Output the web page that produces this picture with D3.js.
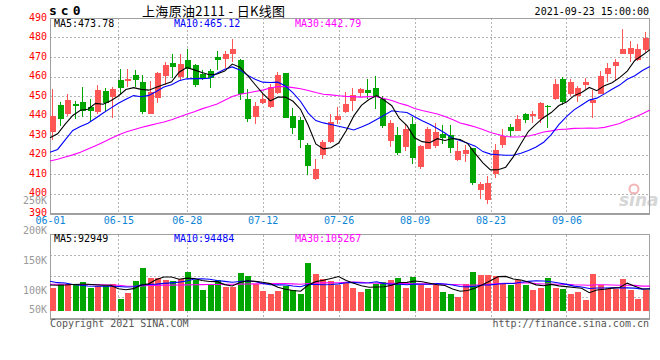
<!DOCTYPE html>
<html><head><meta charset="utf-8">
<script src="https://cdn.jsdelivr.net/npm/d3@7"></script>
<style>body{margin:0;background:#fff}svg{display:block}</style>
</head><body><svg id="c" width="660" height="360"></svg>
<script>
const dates = ["06-01","06-02","06-03","06-04","06-07","06-08","06-09","06-10","06-11","06-15","06-16","06-17","06-18","06-21","06-22","06-23","06-24","06-25","06-28","06-29","06-30",
"07-01","07-02","07-05","07-06","07-07","07-08","07-09","07-12","07-13","07-14","07-15","07-16","07-19","07-20","07-21","07-22","07-23","07-26","07-27","07-28","07-29","07-30",
"08-02","08-03","08-04","08-05","08-06","08-09","08-10","08-11","08-12","08-13","08-16","08-17","08-18","08-19","08-20","08-23","08-24","08-25","08-26","08-27","08-30","08-31",
"09-01","09-02","09-03","09-06","09-07","09-08","09-09","09-10","09-13","09-14","09-15","09-16","09-17","09-22","09-23"];
const tickDates = ["06-01","06-15","06-28","07-12","07-26","08-09","08-23","09-06"];

const openP = [431.5,445.2,440.6,446.1,446.9,444.4,441.8,452.6,449.5,458.4,457.9,460.8,457.2,440.6,449.1,460.1,466.9,459.9,468.3,465.7,
461.5,462.8,470.0,469.1,471.7,468.3,448.6,439.2,446.4,444.4,451.5,461.8,439.6,437.9,424.7,407.6,419.6,426.4,437.5,441.8,
447.4,451.7,453.2,454.3,448.6,426.9,429.8,423.8,435.8,413.6,423.0,424.2,430.7,429.8,417.4,420.4,423.3,402.0,396.8,409.8,
425.0,434.1,432.1,440.6,439.9,438.4,445.0,448.6,458.9,451.2,449.8,455.8,446.4,451.2,461.5,465.4,471.7,471.7,468.6,473.4];
const highP = [453.8,446.9,451.2,447.3,454.6,448.6,455.5,454.3,454.6,464.0,464.0,463.5,460.6,457.7,462.3,467.4,471.7,471.7,474.3,466.6,
463.2,464.0,473.1,472.9,479.4,469.1,453.8,446.9,451.2,456.3,462.3,461.8,444.0,439.2,425.9,417.9,427.6,440.9,444.4,452.1,
454.3,454.3,458.9,460.1,449.8,437.5,434.1,435.5,439.2,425.0,434.1,436.2,435.0,435.0,426.9,424.7,423.5,405.9,408.8,425.2,
433.2,435.5,440.1,441.5,442.3,446.9,445.2,458.9,459.7,458.9,455.1,459.2,453.2,462.8,466.9,469.1,484.2,478.2,476.5,482.8];
const lowP = [427.3,434.6,439.6,438.4,439.2,436.7,440.9,441.8,438.9,451.2,454.6,454.6,440.9,440.6,446.4,455.5,459.4,458.0,459.2,454.6,
458.0,454.3,463.2,464.5,467.4,448.1,436.7,435.8,446.0,444.0,450.9,438.9,430.7,423.5,409.3,406.8,417.9,425.9,435.8,441.5,
442.3,449.5,448.6,443.5,433.8,423.8,419.6,421.8,415.3,412.7,422.7,423.3,425.6,420.8,416.7,416.2,404.5,397.4,394.8,408.1,
423.5,429.0,431.8,436.2,436.2,436.2,433.8,448.1,445.2,449.8,446.9,453.8,438.9,450.9,457.2,457.7,471.4,467.4,467.9,472.6];
const closeP = [439.7,438.4,448.0,445.0,442.3,442.3,453.2,446.4,453.8,454.3,458.9,458.0,441.8,452.1,461.8,465.7,464.9,466.4,464.0,455.8,
458.9,459.4,468.3,471.4,473.9,450.9,438.4,445.0,448.5,454.6,460.6,438.9,433.8,427.6,413.9,412.7,426.4,436.7,439.6,445.7,
450.7,453.4,451.5,449.5,434.4,436.2,420.8,433.2,418.4,424.4,433.2,431.5,428.6,423.5,421.8,422.5,405.6,405.0,405.6,422.1,
429.3,432.1,438.2,437.9,440.6,446.4,444.4,456.3,446.9,457.2,454.3,457.2,447.8,460.1,464.4,467.4,474.3,474.6,473.9,479.9];

const ma5 = [428.6,430.6,435.6,440.0,442.7,443.2,446.2,445.8,447.6,450.0,453.3,454.3,453.4,453.0,454.5,455.9,457.3,462.2,464.6,463.4,
462.0,460.9,461.3,462.8,466.4,464.8,460.6,455.9,451.3,447.5,449.4,449.5,447.3,443.1,435.0,425.4,422.9,423.5,425.9,432.2,
439.8,445.2,448.2,450.2,447.9,445.0,438.5,434.8,428.6,426.6,426.0,428.1,427.2,428.2,427.7,425.6,420.4,415.7,412.1,412.2,
413.5,418.8,425.5,431.9,435.6,439.0,441.5,445.1,446.9,450.2,451.8,454.4,452.7,455.3,456.8,459.4,462.8,468.2,470.9,473.8];
const ma10 = [421.1,422.6,427.5,432.3,434.4,436.0,438.6,441.3,443.8,446.3,448.3,450.2,449.6,450.3,452.3,454.6,455.8,457.8,458.8,458.9,
458.9,459.1,461.7,463.7,464.9,463.4,460.7,458.6,457.1,456.9,457.1,455.1,451.6,447.2,441.2,437.4,436.2,435.4,434.5,433.6,
432.6,434.1,435.8,438.0,440.1,442.4,441.9,441.5,439.4,437.3,435.5,433.3,431.0,428.4,427.2,425.8,424.3,421.5,420.2,419.9,
419.6,419.6,420.6,422.0,423.9,426.3,430.2,435.3,439.4,442.9,445.4,447.9,448.9,451.1,453.5,455.6,458.6,460.4,463.1,465.1];
const ma30 = [416.7,417.6,418.7,419.8,421.2,422.8,424.5,426.3,428.2,430.0,431.5,432.7,433.8,434.8,435.8,436.7,437.8,439.2,440.6,441.9,
443.4,444.6,445.9,447.8,449.8,450.9,451.5,452.3,453.0,454.1,454.8,454.8,454.3,453.7,452.8,451.8,450.9,450.6,450.1,449.8,
449.6,449.4,449.7,449.6,448.7,447.7,446.3,445.2,443.6,442.6,441.7,440.8,439.5,437.9,436.2,435.2,434.1,432.8,431.3,430.3,
429.2,429.0,429.1,429.5,430.4,431.5,432.1,432.8,433.0,433.4,433.5,433.6,433.5,433.9,434.9,435.9,437.7,439.1,440.9,442.8];

const volume = [97600,115900,115900,115900,122900,97600,104600,104600,115900,49500,
76300,127200,182300,139900,139900,130000,127200,134300,165300,130000,
87700,108800,130000,101800,101800,161100,147000,115900,84800,70700,
84800,104600,87700,70700,203500,155400,134300,125800,111700,118700,
99000,80600,94700,115900,122900,130000,139900,97600,144200,108800,
97600,108800,80600,70700,59500,113100,165300,151200,151200,147000,
118700,108800,130000,108800,87700,99000,138500,99000,91900,70700,
80600,45400,155400,108800,94700,94700,137100,90500,49500,90500];
const volMa5 = [110000,109000,110000,112000,113600,113600,111400,109100,109100,94400,
90200,94700,110200,115000,133100,143900,143900,134300,139300,137400,
128900,125200,124400,111700,106000,120700,128300,125500,122100,115900,
100600,92200,86500,83700,110300,124400,130300,137900,146100,129200,
117900,107200,100900,101800,102600,108800,120700,121300,126900,124100,
117600,111400,108000,93300,83400,86500,97800,112000,128100,145600,
146700,135400,131100,122700,110800,106900,112800,106600,103200,99800,
96100,77500,88800,92200,97000,99800,118100,105200,93300,92949];
const volMa10 = [125700,120000,118800,112000,108900,106000,104700,104700,104700,104000,
101900,103000,109700,112100,113800,117000,119300,122300,127200,135200,
136400,134500,129300,125500,121700,124800,126800,124900,116900,111000,
110700,110300,106000,102900,113100,112500,111200,112200,114900,119700,
121100,118700,119400,124000,115900,113400,113900,111100,114400,113400,
113200,116000,114600,110100,103800,102100,104600,110000,110700,114500,
116600,116600,121600,125400,128200,126800,124100,118900,112900,105300,
101500,95200,97700,97700,98400,98000,97800,97000,92700,94484];
const volMa30 = [113000,113000,113000,112500,112000,112000,111500,111000,110000,109000,
106000,105000,106000,108000,108500,109000,109500,110000,110500,111000,
111500,112000,112500,113000,113500,114000,114500,115000,115500,116700,
116300,115900,115000,113500,116200,118100,119100,119800,119700,122000,
122700,121200,118300,117500,116900,116900,117300,116100,115400,114700,
115000,115000,113400,112300,110900,109300,109900,111100,113300,115900,
117000,117100,118500,119800,116000,114100,114200,113300,112700,111100,
110400,109300,111300,111100,110100,108900,108800,108600,105500,105267];

const priceTicks = [390,400,410,420,430,440,450,460,470,480,490];
const volLabelTicks = [250000,200000,150000,100000,50000];
const legendPrice = [{t:"MA5:473.78",c:"#000"},{t:"MA10:465.12",c:"#0000ff"},{t:"MA30:442.79",c:"#ff00ff"}];
const legendVol = [{t:"MA5:92949",c:"#000"},{t:"MA10:94484",c:"#0000ff"},{t:"MA30:105267",c:"#ff00ff"}];

const UP = "#ff5555", DOWN = "#00a600", GRID = "#b4b4b4", FRAME = "#a0a0a0";
const MONO = "'DejaVu Sans Mono', 'Liberation Mono', monospace";

const svg = d3.select("#c");
const L = 50, R = 650;
const pTop = 18, pBot = 213;
const vTop = 234.5, vBot = 318;

const xBand = d3.scaleBand().domain(dates).range([L, R]);
const xPt = d3.scalePoint().domain(dates).range([L, R]);
const yP = d3.scaleLinear().domain([390, 490]).range([pBot, pTop]);
const yV = d3.scaleLinear().domain([0, 324000]).range([311, 234.5]);
const yVLabel = d3.scaleLinear().domain([50000, 250000]).range([320.5, 200.5]);

svg.append("rect").attr("width", 660).attr("height", 360).attr("fill", "#fff");

// grids
const grid = svg.append("g").attr("stroke", GRID).attr("stroke-width", 1).attr("stroke-dasharray", "2,2").attr("shape-rendering", "crispEdges");
grid.selectAll(".hp").data(priceTicks.filter(v => v > 390 && v < 490)).join("line")
  .attr("x1", L).attr("x2", R).attr("y1", d => Math.round(yP(d)) + 0.5).attr("y2", d => Math.round(yP(d)) + 0.5);
grid.selectAll(".vp").data(tickDates).join("line")
  .attr("x1", d => Math.round(xPt(d)) + 0.5).attr("x2", d => Math.round(xPt(d)) + 0.5)
  .attr("y1", pTop).attr("y2", pBot);
grid.selectAll(".vv").data(tickDates).join("line")
  .attr("x1", d => Math.round(xPt(d)) + 0.5).attr("x2", d => Math.round(xPt(d)) + 0.5)
  .attr("y1", vTop).attr("y2", vBot);
const vh = (vBot - vTop) / 4;
grid.selectAll(".hv").data([1, 2, 3]).join("line")
  .attr("x1", L).attr("x2", R)
  .attr("y1", d => Math.round(vTop + d * vh) + 0.5).attr("y2", d => Math.round(vTop + d * vh) + 0.5);

// sina watermark
const wm = svg.append("g");
wm.append("text").attr("x", 619).attr("y", 206).attr("font-family", "'DejaVu Sans', sans-serif")
  .attr("font-style", "italic").attr("font-weight", "bold").attr("font-size", 17).attr("fill", "#d6d6d6").text("sina");
wm.append("circle").attr("cx", 634).attr("cy", 189).attr("r", 4.5).attr("fill", "none").attr("stroke", "#f2b4b4").attr("stroke-width", 2);

// frames
const fr = svg.append("g").attr("fill", "none").attr("stroke", FRAME).attr("shape-rendering", "crispEdges");
fr.append("rect").attr("x", L + 0.5).attr("y", pTop + 0.5).attr("width", R - L - 1).attr("height", pBot - pTop);
fr.append("line").attr("x1", L).attr("x2", R).attr("y1", pBot + 1).attr("y2", pBot + 1).attr("stroke-width", 2);
fr.append("rect").attr("x", L + 0.5).attr("y", vTop).attr("width", R - L - 1).attr("height", vBot - vTop);
fr.append("line").attr("x1", L).attr("x2", R).attr("y1", vBot + 1).attr("y2", vBot + 1).attr("stroke-width", 2);

// candles
const idx = d3.range(dates.length);
const cg = svg.append("g").attr("shape-rendering", "crispEdges");
const col = i => closeP[i] >= openP[i] ? UP : DOWN;
cg.selectAll(".w").data(idx).join("line")
  .attr("x1", i => Math.round(xBand(dates[i])) + 2.5).attr("x2", i => Math.round(xBand(dates[i])) + 2.5)
  .attr("y1", i => yP(highP[i])).attr("y2", i => yP(lowP[i]))
  .attr("stroke", col).attr("stroke-width", 1);
cg.selectAll(".b").data(idx).join("rect")
  .attr("x", i => Math.round(xBand(dates[i])))
  .attr("width", 6)
  .attr("y", i => yP(Math.max(openP[i], closeP[i])))
  .attr("height", i => Math.max(1, Math.abs(yP(openP[i]) - yP(closeP[i]))))
  .attr("fill", col);

// volume bars
svg.append("g").attr("shape-rendering", "crispEdges").selectAll("rect").data(idx).join("rect")
  .attr("x", i => Math.round(xBand(dates[i])))
  .attr("width", 6)
  .attr("y", i => yV(volume[i]))
  .attr("height", i => yV(0) - yV(volume[i]))
  .attr("fill", col);

// MA lines
const lineP = d3.line().x((d, i) => xPt(dates[i])).y(d => yP(d));
const lineV = d3.line().x((d, i) => xPt(dates[i])).y(d => yV(d));
[[ma30, "#ff00ff"], [ma10, "#0000ff"], [ma5, "#000"]].forEach(([s, c]) =>
  svg.append("path").attr("d", lineP(s)).attr("fill", "none").attr("stroke", c).attr("stroke-width", 1.1));
[[volMa30, "#ff00ff"], [volMa10, "#0000ff"], [volMa5, "#000"]].forEach(([s, c]) =>
  svg.append("path").attr("d", lineV(s)).attr("fill", "none").attr("stroke", c).attr("stroke-width", 1.1));

// axes
const ax1 = svg.append("g").attr("transform", `translate(${L - 3},-1)`)
  .call(d3.axisLeft(yP).tickValues(priceTicks).tickSize(0).tickPadding(0).tickFormat(d3.format("d")));
ax1.select(".domain").remove();
ax1.selectAll("text").attr("fill", "#ff0000").attr("font-family", MONO).attr("font-size", 10);

const ax2 = svg.append("g").attr("transform", `translate(${L - 3},0)`)
  .call(d3.axisLeft(yVLabel).tickValues(volLabelTicks).tickSize(0).tickPadding(0).tickFormat(d => d / 1000 + "K"));
ax2.select(".domain").remove();
ax2.selectAll(".tick").attr("transform", d => `translate(0,${Math.min(yVLabel(d), 310)})`);
ax2.selectAll("text").attr("fill", "#999").attr("font-family", MONO).attr("font-size", 10);

const ax3 = svg.append("g").attr("transform", `translate(0,${pBot + 1})`)
  .call(d3.axisBottom(xPt).tickValues(tickDates).tickSize(0).tickPadding(3));
ax3.select(".domain").remove();
ax3.selectAll("text").attr("fill", "#0a84d6").attr("font-family", MONO).attr("font-size", 10);

// legends
const lx = [54, 174, 295];
svg.selectAll(".lp").data(legendPrice).join("text").attr("x", (d, i) => lx[i]).attr("y", 27)
  .attr("fill", d => d.c).attr("font-family", MONO).attr("font-size", 10).text(d => d.t);
svg.selectAll(".lv").data(legendVol).join("text").attr("x", (d, i) => lx[i]).attr("y", 242)
  .attr("fill", d => d.c).attr("font-family", MONO).attr("font-size", 10).text(d => d.t);

// title
svg.append("text").attr("x", 49).attr("y", 15).attr("font-family", MONO).attr("font-weight", "bold")
  .attr("font-size", 13).attr("letter-spacing", 4).attr("fill", "#000").text("sc0");
svg.append("text").attr("x", 142).attr("y", 15.5).attr("font-family", "'Noto Sans CJK SC', sans-serif")
  .attr("font-size", 13).attr("fill", "#000").attr("textLength", 143).attr("lengthAdjust", "spacing")
  .text("上海原油2111 - 日K线图");
svg.append("text").attr("x", 649).attr("y", 15).attr("text-anchor", "end").attr("font-family", MONO)
  .attr("font-size", 10).attr("fill", "#000").text("2021-09-23 15:00:00");

// footer
svg.append("text").attr("x", 50).attr("y", 327).attr("font-family", MONO).attr("font-size", 10)
  .attr("fill", "#555").text("Copyright 2021 SINA.COM");
svg.append("text").attr("x", 649).attr("y", 327).attr("text-anchor", "end").attr("font-family", MONO)
  .attr("font-size", 10).attr("fill", "#555").text("http://finance.sina.com.cn");
</script></body></html>
